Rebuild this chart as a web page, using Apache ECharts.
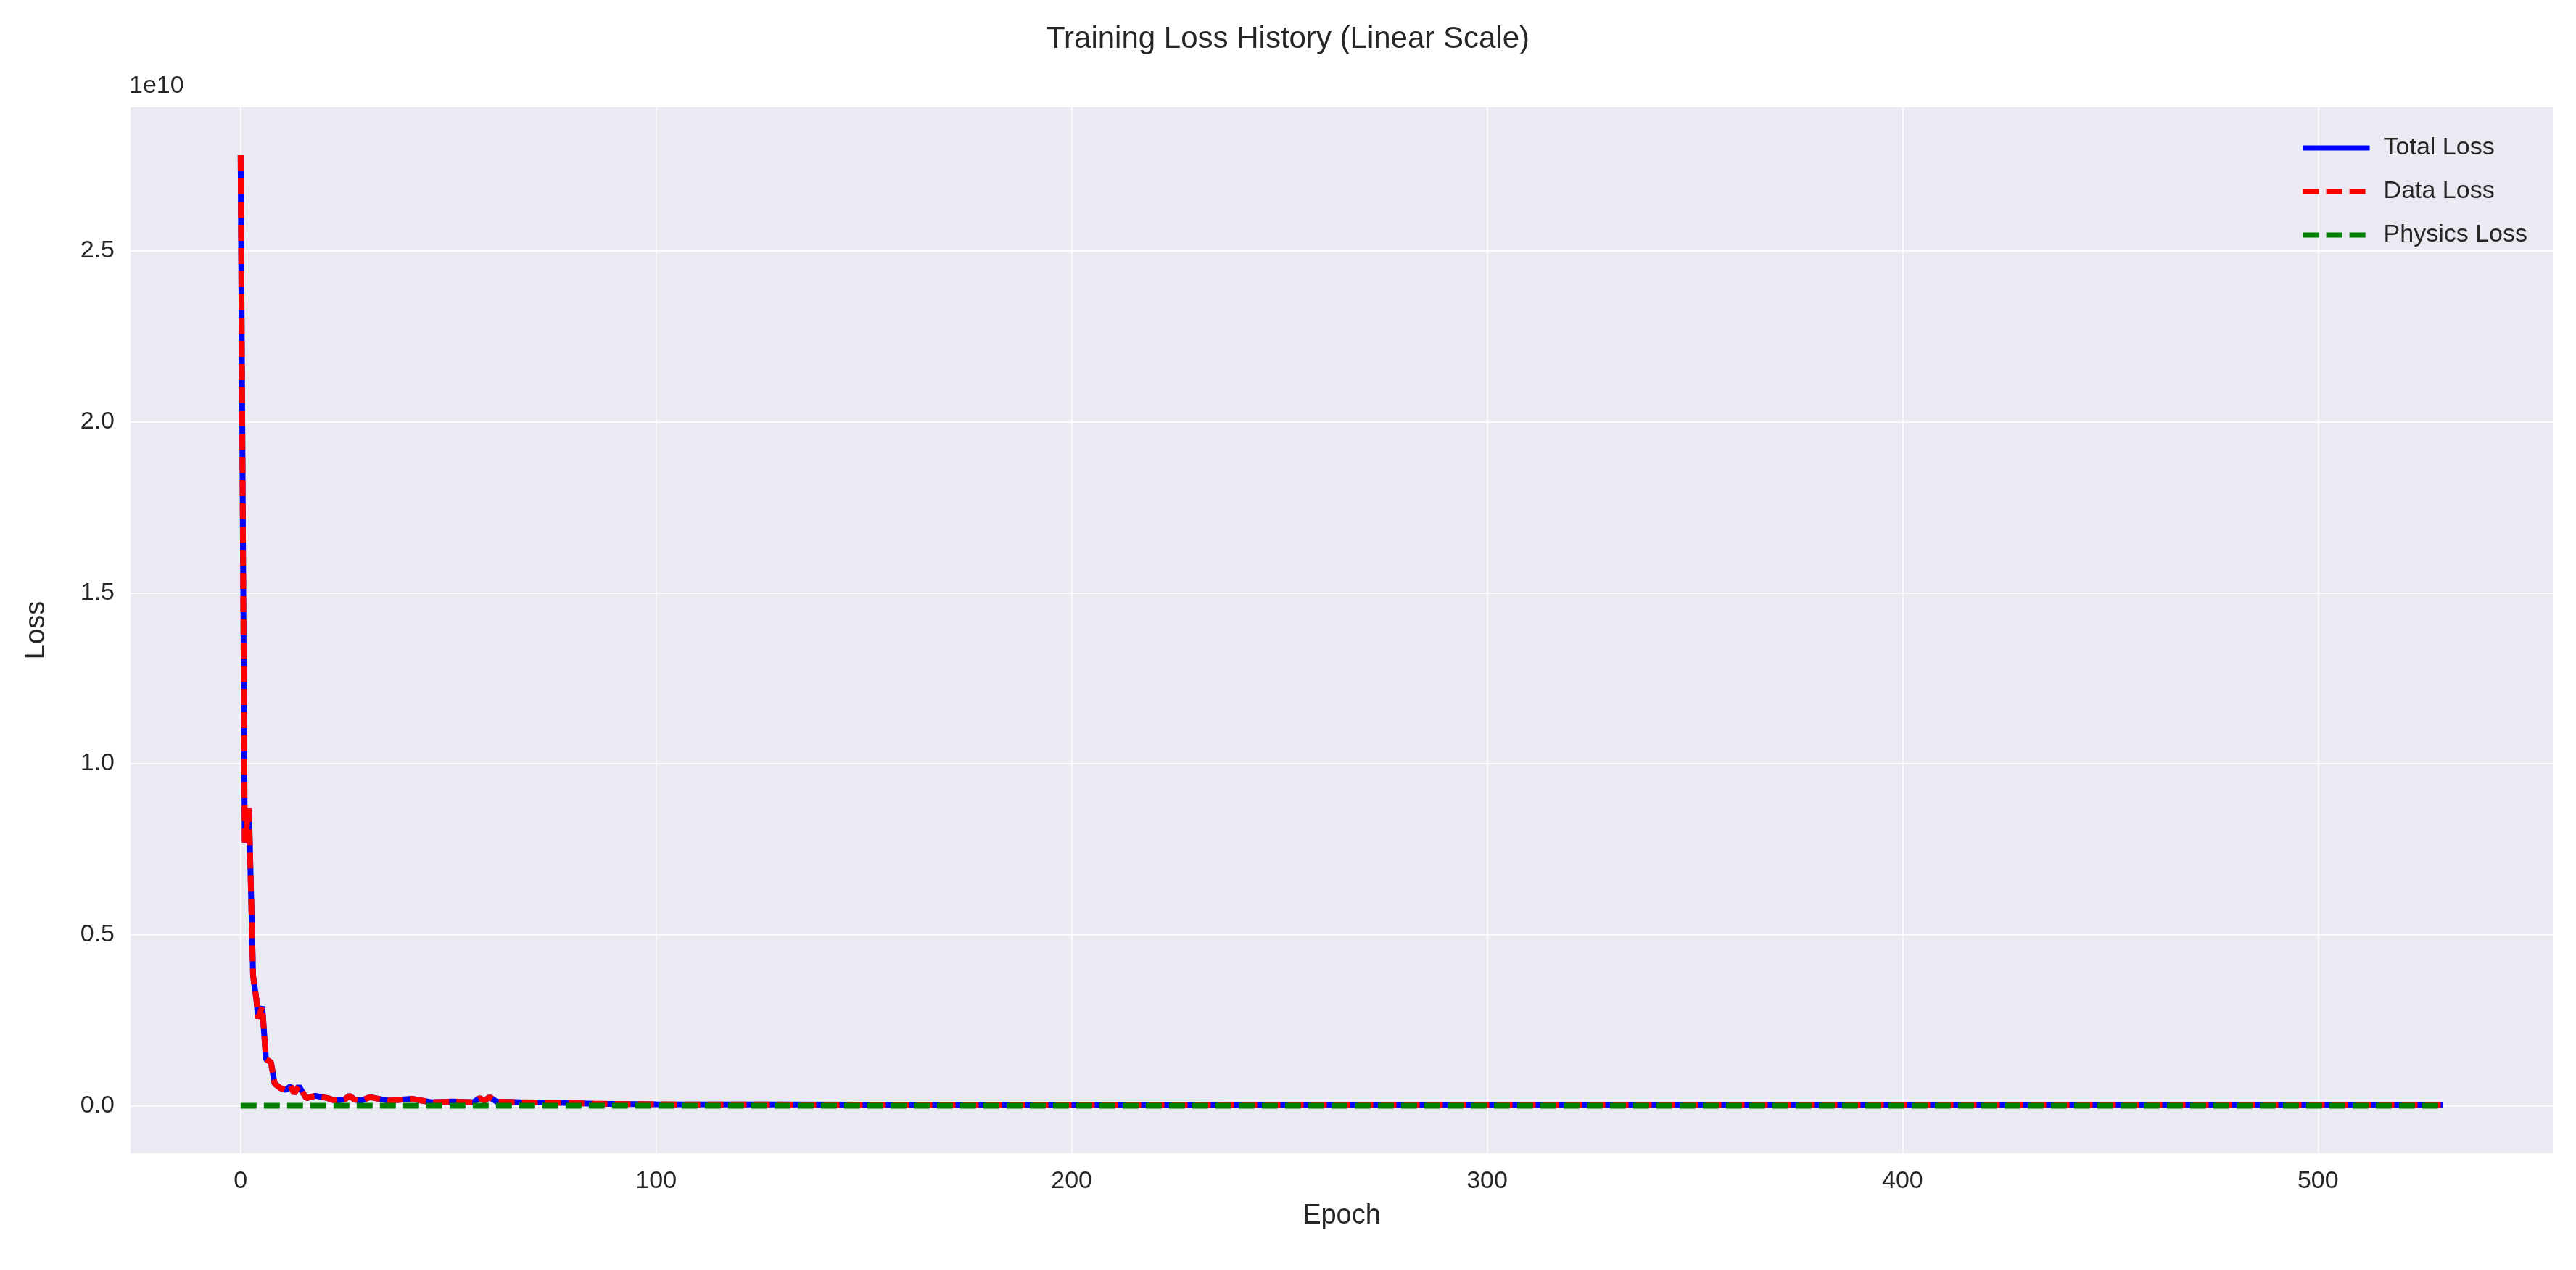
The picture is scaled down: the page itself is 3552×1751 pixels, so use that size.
<!DOCTYPE html>
<html>
<head>
<meta charset="utf-8">
<script src="https://cdn.jsdelivr.net/npm/echarts@6/dist/echarts.min.js"></script>
<style>html,body{margin:0;padding:0;background:#fff}#main{width:3552px;height:1751px}</style>
</head>
<body>
<div id="main"></div>
<script>
// epochs (loss values in units of 1e10)
const epochs = [0, 1, 2, 3, 3.8, 4.2, 5.2, 6.1, 7.3, 8.2, 9.6, 10.9, 12, 12.9, 14, 15.8, 18, 21, 22.7, 25, 26.2, 27.4, 29, 31.1, 35.4, 41.2, 45.9, 51, 56, 57.5, 58.7, 59.9, 61.6, 67.4, 76, 85, 100, 150, 200, 250, 300, 350, 400, 450, 500, 530]
const totalLoss = [2.78, 0.77, 0.87, 0.38, 0.31, 0.255, 0.29, 0.136, 0.127, 0.064, 0.051, 0.046, 0.057, 0.036, 0.057, 0.022, 0.029, 0.022, 0.015, 0.018, 0.029, 0.018, 0.015, 0.025, 0.015, 0.02, 0.01, 0.012, 0.01, 0.022, 0.015, 0.025, 0.012, 0.01, 0.009, 0.006, 0.004, 0.003, 0.003, 0.002, 0.002, 0.002, 0.002, 0.002, 0.002, 0.002]
const dataLoss = [2.78, 0.77, 0.87, 0.38, 0.31, 0.255, 0.29, 0.136, 0.127, 0.064, 0.051, 0.046, 0.057, 0.036, 0.057, 0.022, 0.029, 0.022, 0.015, 0.018, 0.029, 0.018, 0.015, 0.025, 0.015, 0.02, 0.01, 0.012, 0.01, 0.022, 0.015, 0.025, 0.012, 0.01, 0.009, 0.006, 0.004, 0.003, 0.003, 0.002, 0.002, 0.002, 0.002, 0.002, 0.002, 0.002]
const physicsEpochs = [0, 530]
const physicsLoss = [0, 0]
const xTicks = [0, 100, 200, 300, 400, 500]
const yTicks = [0, 0.5, 1.0, 1.5, 2.0, 2.5]

const pairs = (xs, ys) => xs.map((x, i) => [x, ys[i]])

const myChart = echarts.init(document.querySelector('#main'))
const font = 'Liberation Sans, DejaVu Sans, sans-serif'
const gridLine = { show: true, lineStyle: { color: 'rgba(255,255,255,0.75)', width: 2 } }

const option = {
  backgroundColor: '#fff',
  animation: false,
  title: {
    text: 'Training Loss History (Linear Scale)',
    left: 'center',
    top: 28,
    textStyle: { fontFamily: font, fontSize: 42, fontWeight: 'normal', color: '#262626' }
  },
  grid: { left: 180, right: 32, top: 148, bottom: 161, backgroundColor: '#eaeaf2', show: true, borderWidth: 0 },
  graphic: [{
    type: 'text', left: 178, top: 102,
    style: { text: '1e10', fontFamily: font, fontSize: 34, fill: '#262626' }
  }],
  legend: {
    right: 62, top: 182, orient: 'vertical', itemGap: 26, itemWidth: 92, itemHeight: 12,
    itemStyle: { opacity: 0 },
    lineStyle: { width: 7 },
    textStyle: { fontFamily: font, fontSize: 34, color: '#262626', padding: [0, 0, 0, 14] },
    data: ['Total Loss', 'Data Loss', 'Physics Loss']
  },
  xAxis: {
    type: 'value', min: -26.5, max: 556.5,
    name: 'Epoch', nameLocation: 'middle', nameGap: 68,
    nameTextStyle: { fontFamily: font, fontSize: 38, color: '#262626' },
    axisLine: { show: false },
    axisTick: { show: false, customValues: xTicks },
    axisLabel: { customValues: xTicks, fontFamily: font, fontSize: 34, color: '#262626', margin: 22 },
    splitLine: gridLine
  },
  yAxis: {
    type: 'value', min: -0.139, max: 2.92,
    name: 'Loss', nameLocation: 'middle', nameGap: 110,
    nameTextStyle: { fontFamily: font, fontSize: 38, color: '#262626' },
    axisLine: { show: false },
    axisTick: { show: false, customValues: yTicks },
    axisLabel: { customValues: yTicks, fontFamily: font, fontSize: 34, color: '#262626', margin: 22,
      formatter: v => v.toFixed(1) },
    splitLine: gridLine
  },
  series: [
    {
      name: 'Total Loss', type: 'line', showSymbol: false, symbol: 'none',
      data: pairs(epochs, totalLoss),
      lineStyle: { color: '#0000ff', width: 8 }, itemStyle: { color: '#0000ff' }
    },
    {
      name: 'Data Loss', type: 'line', showSymbol: false, symbol: 'none',
      data: pairs(epochs, dataLoss),
      lineStyle: { color: '#ff0000', width: 8, type: [22, 10] }, itemStyle: { color: '#ff0000' }
    },
    {
      name: 'Physics Loss', type: 'line', showSymbol: false, symbol: 'none',
      data: pairs(physicsEpochs, physicsLoss),
      lineStyle: { color: '#008000', width: 8, type: [22, 10] }, itemStyle: { color: '#008000' }
    }
  ]
}

myChart.setOption(option)
</script>
</body>
</html>
